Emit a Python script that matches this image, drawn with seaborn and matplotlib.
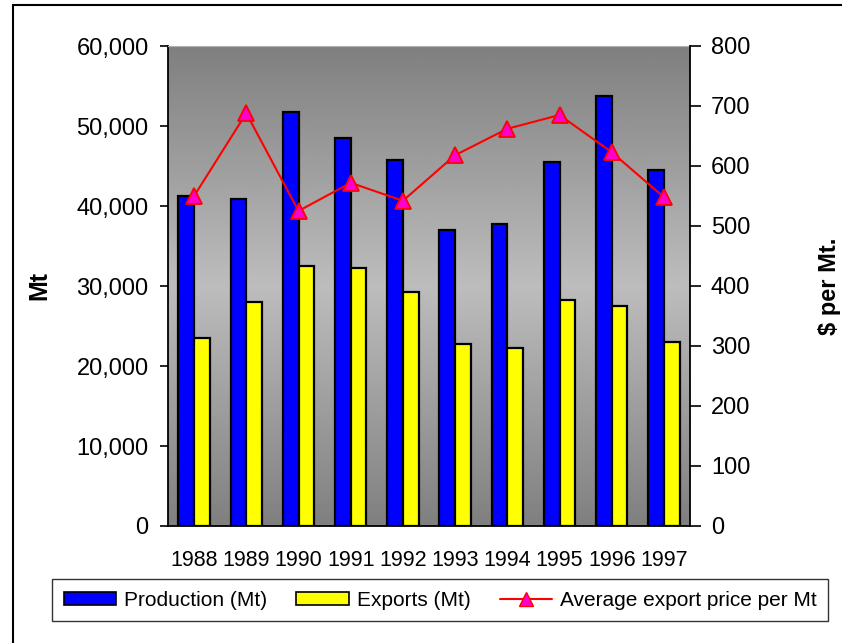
import numpy as np
import pandas as pd
import matplotlib
matplotlib.use('Agg')
import matplotlib.pyplot as plt
import seaborn as sns
from matplotlib.patches import Patch, Rectangle
from matplotlib.lines import Line2D

# ---------------------------------------------------------------------------
# Data
# ---------------------------------------------------------------------------
YEARS       = ['1988', '1989', '1990', '1991', '1992', '1993', '1994', '1995', '1996', '1997']
PRODUCTION  = [41200, 40900, 51750, 48500, 45750, 37000, 37750, 45500, 53750, 44500]
EXPORTS     = [23500, 28000, 32500, 32250, 29250, 22750, 22250, 28250, 27500, 23000]
PRICE       = [550, 688, 525, 572, 542, 618, 662, 685, 623, 548]

SERIES      = ['Production (Mt)', 'Exports (Mt)']
LINE_LABEL  = 'Average export price per Mt'

COLOR_PROD  = '#0000FF'
COLOR_EXP   = '#FFFF00'
COLOR_LINE  = '#FF0000'
COLOR_MARK  = '#FF00CC'

sns.set_style('white')
plt.rcParams['font.family'] = ['Liberation Sans', 'DejaVu Sans']
plt.rcParams['text.color'] = 'black'
plt.rcParams['axes.labelcolor'] = 'black'
plt.rcParams['xtick.color'] = 'black'
plt.rcParams['ytick.color'] = 'black'

df = pd.DataFrame({
    'year': YEARS * 2,
    'value': PRODUCTION + EXPORTS,
    'series': [SERIES[0]] * len(YEARS) + [SERIES[1]] * len(YEARS),
})

fig = plt.figure(figsize=(8.42, 6.43), dpi=100)
ax = fig.add_axes([168 / 842, 1 - 526 / 643, 522 / 842, 480 / 643])

# gradient plot-area background (dark top/bottom, light middle)
grad = np.concatenate([np.linspace(0.50, 0.74, 128), np.linspace(0.74, 0.50, 128)])
ax.imshow(grad.reshape(-1, 1), cmap='gray', vmin=0, vmax=1, aspect='auto',
          extent=[0, 1, 0, 1], transform=ax.transAxes, zorder=0, interpolation='bilinear')

sns.barplot(data=df, x='year', y='value', hue='series', order=YEARS, hue_order=SERIES,
            palette=[COLOR_PROD, COLOR_EXP], width=0.6, edgecolor='black', linewidth=1.6,
            saturation=1, legend=False, ax=ax, zorder=2)

ax.set_xlim(-0.5, len(YEARS) - 0.5)
ax.set_ylim(0, 60000)
ax.set_yticks(range(0, 60001, 10000))
ax.set_yticklabels([f'{v:,}' for v in range(0, 60001, 10000)], fontsize=17)
ax.set_xticks(range(len(YEARS)))
ax.set_xticklabels(YEARS, fontsize=15.5)
ax.set_xticks(np.arange(-0.5, len(YEARS), 1), minor=True)
ax.tick_params(axis='x', which='major', length=0, pad=17)
ax.tick_params(axis='x', which='minor', length=9, width=1.2, direction='inout', color='black')
ax.tick_params(axis='y', length=6, width=1.2, direction='out', color='black', pad=8, left=True)
ax.set_xlabel('')
ax.set_ylabel('Mt', fontsize=18, fontweight='bold', labelpad=18)

for side in ['left', 'right', 'bottom']:
    ax.spines[side].set_color('black')
    ax.spines[side].set_linewidth(1.3)
ax.spines['top'].set_color('#b0b0b0')

# secondary axis: average export price
ax2 = ax.twinx()
sns.lineplot(x=np.arange(len(YEARS)), y=PRICE, ax=ax2, color=COLOR_LINE, linewidth=1.5,
             marker='^', markersize=11, markerfacecolor=COLOR_MARK, markeredgecolor=COLOR_LINE,
             markeredgewidth=1.3, zorder=5)
ax2.set_ylim(0, 800)
ax2.set_yticks(range(0, 801, 100))
ax2.set_yticklabels([str(v) for v in range(0, 801, 100)], fontsize=17)
ax2.tick_params(axis='y', length=8, width=1.2, direction='out', color='black', pad=7, right=True)
ax2.set_ylabel('$ per Mt.', fontsize=17, fontweight='bold', labelpad=49)
ax2.spines['right'].set_color('black')
ax2.spines['right'].set_linewidth(1.3)
for side in ['left', 'top', 'bottom']:
    ax2.spines[side].set_visible(False)
ax.spines['right'].set_visible(False)
ax2.grid(False)
ax.grid(False)

handles = [
    Patch(facecolor=COLOR_PROD, edgecolor='black', linewidth=1.2, label=SERIES[0]),
    Patch(facecolor=COLOR_EXP, edgecolor='black', linewidth=1.2, label=SERIES[1]),
    Line2D([0], [0], color=COLOR_LINE, linewidth=1.5, marker='^', markersize=10,
           markerfacecolor=COLOR_MARK, markeredgecolor=COLOR_LINE, label=LINE_LABEL),
]
leg = fig.legend(handles=handles, loc='lower center', bbox_to_anchor=(0.523, 0.034), ncol=3,
                 fontsize=15, frameon=True, fancybox=False, edgecolor='black',
                 handlelength=2.5, handleheight=0.6, handletextpad=0.4, columnspacing=1.4,
                 borderpad=0.55, borderaxespad=0)
leg.get_frame().set_linewidth(1.0)

# outer figure border (right/bottom cropped in the reference)
fig.patches.append(Rectangle((13 / 842, -0.1), 1.0, 1.1 - 5 / 643, transform=fig.transFigure,
                             fill=False, edgecolor='black', linewidth=1.5))

fig.savefig('out.png', dpi=100)
